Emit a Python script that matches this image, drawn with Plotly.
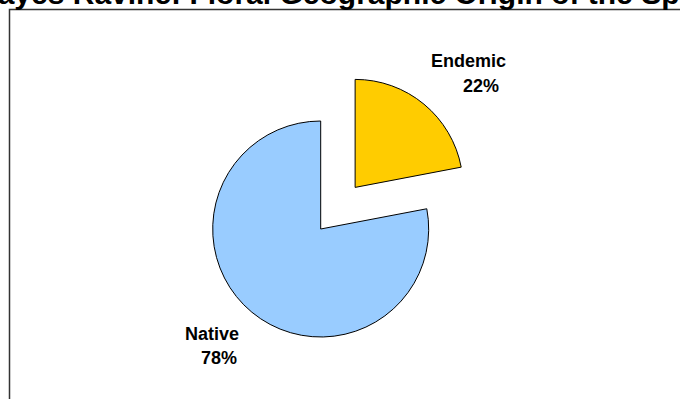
import plotly.graph_objects as go

# Species counts by geographic origin (percent of flora)
labels = ["Endemic", "Native"]
values = [22, 78]
colors = ["#FFCC00", "#99CCFF"]
pulls = [0.5, 0.0]

title_text = "Hayes Ravine: Floral Geographic Origin of the Species"

W, H = 680, 399

fig = go.Figure()
fig.add_trace(go.Pie(
    labels=labels,
    values=values,
    sort=False,
    direction="clockwise",
    rotation=0,
    pull=pulls,
    marker=dict(colors=colors, line=dict(color="#000000", width=1)),
    textinfo="none",
    hoverinfo="label+percent",
    showlegend=False,
    domain=dict(x=[158.7 / W, 482.7 / W], y=[1 - 391 / H, 1 - 67 / H]),
))

total = sum(values)
label_font = dict(family="Liberation Sans, Arial, sans-serif", size=18, color="#000000")
# (name line x-left, name line y-center, pct line x-left, pct line y-center) in pixels
label_pos = {
    "Endemic": (429, 61, 461, 86),
    "Native": (183, 334, 199, 358),
}
annotations = []
for lab, val in zip(labels, values):
    x1, y1, x2, y2 = label_pos[lab]
    pct = round(100 * val / total)
    annotations.append(dict(
        text=f"<b>{lab}</b>", x=x1 / W, y=1 - y1 / H, xref="paper", yref="paper",
        xanchor="left", yanchor="middle", showarrow=False, font=label_font,
    ))
    annotations.append(dict(
        text=f"<b>{pct}%</b>", x=x2 / W, y=1 - y2 / H, xref="paper", yref="paper",
        xanchor="left", yanchor="middle", showarrow=False, font=label_font,
    ))

annotations.append(dict(
    text=f"<b>{title_text}</b>", x=365 / W, y=1 - 12 / H, xref="paper", yref="paper",
    xanchor="center", yanchor="bottom", showarrow=False,
    font=dict(family="Liberation Sans, Arial, sans-serif", size=30, color="#000000"),
))

fig.update_layout(
    width=W, height=H,
    margin=dict(l=0, r=0, t=0, b=0),
    paper_bgcolor="#FFFFFF",
    plot_bgcolor="#FFFFFF",
    annotations=annotations,
    shapes=[dict(
        type="rect", xref="paper", yref="paper",
        x0=9.5 / W, x1=1.05, y0=-0.05, y1=1 - 9.5 / H,
        line=dict(color="#333333", width=1.5), fillcolor="rgba(0,0,0,0)", layer="below",
    )],
)

fig.write_html("out.html")
